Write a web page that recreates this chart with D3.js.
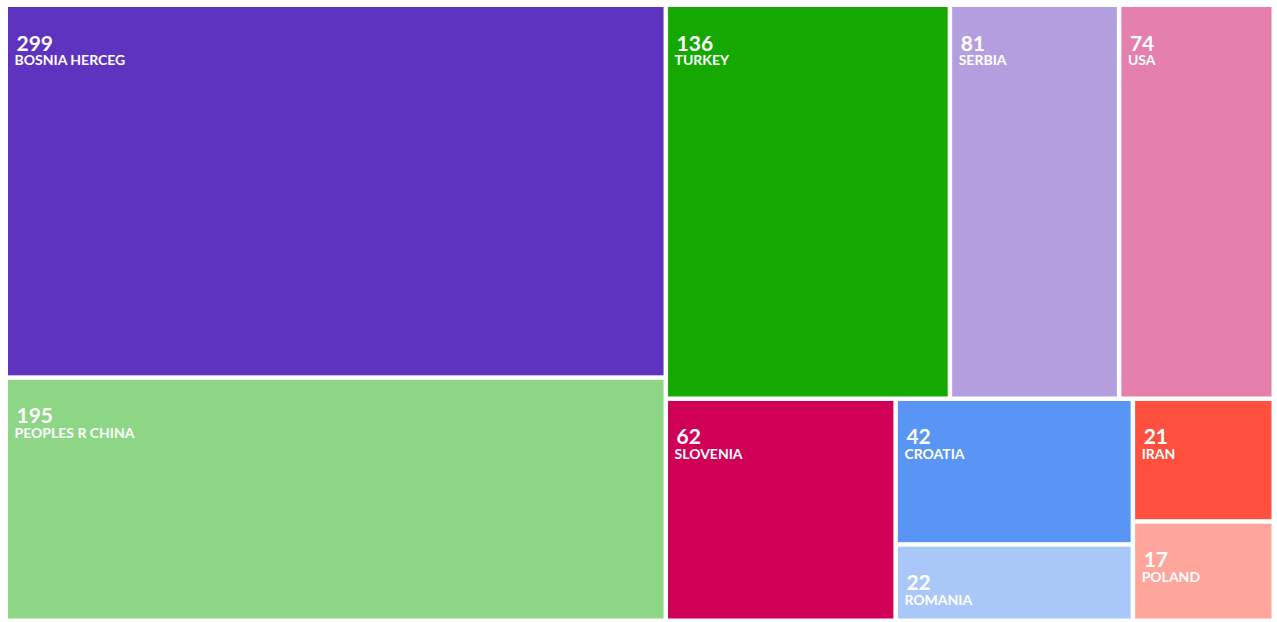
<!DOCTYPE html>
<html>
<head>
<meta charset="utf-8">
<script src="https://cdn.jsdelivr.net/npm/d3@7"></script>
<style>
  body { margin: 0; background: #fff; }
  text { font-family: "Lato", "Noto Sans", sans-serif; fill: #fff; }
</style>
</head>
<body>
<div id="chart"></div>
<script>
// Countries and counts
const countries = ["BOSNIA HERCEG", "PEOPLES R CHINA", "TURKEY", "SERBIA", "USA",
  "SLOVENIA", "CROATIA", "ROMANIA", "IRAN", "POLAND"];
const counts = [299, 195, 136, 81, 74, 62, 42, 22, 21, 17];
const colors = ["#5e33bf", "#8dd685", "#14a800", "#b39fe0", "#e57fab",
  "#cf0056", "#5895f5", "#aac7fa", "#ff4f3e", "#ffa69c"];

const width = 1277;
const height = 622;

const svg = d3.select("#chart")
  .append("svg")
  .attr("width", width)
  .attr("height", height);

const root = d3.hierarchy({
  children: countries.map((c, i) => ({ name: c, value: counts[i], color: colors[i] }))
}).sum(d => d.value || 0);

d3.treemap()
  .tile(d3.treemapSquarify)
  .size([1265, 613])
  .paddingInner(3)(root);

const g = svg.append("g").attr("transform", "translate(6.5,5.5)");

const cell = g.selectAll("g")
  .data(root.leaves())
  .enter()
  .append("g")
  .attr("transform", d => `translate(${d.x0},${d.y0})`);

cell.append("rect")
  .attr("x", 1.5)
  .attr("y", 1.5)
  .attr("width", d => Math.max(0, d.x1 - d.x0 - 1.5))
  .attr("height", d => Math.max(0, d.y1 - d.y0 - 1.5))
  .attr("fill", d => d.data.color);

cell.append("text")
  .attr("x", 10)
  .attr("y", 45)
  .style("font-size", "21px")
  .style("font-weight", "bold")
  .text(d => d.data.value);

cell.append("text")
  .attr("x", 8)
  .attr("y", 59.5)
  .style("font-size", "14px")
  .style("font-weight", "bold")
  .text(d => d.data.name);
</script>
</body>
</html>
